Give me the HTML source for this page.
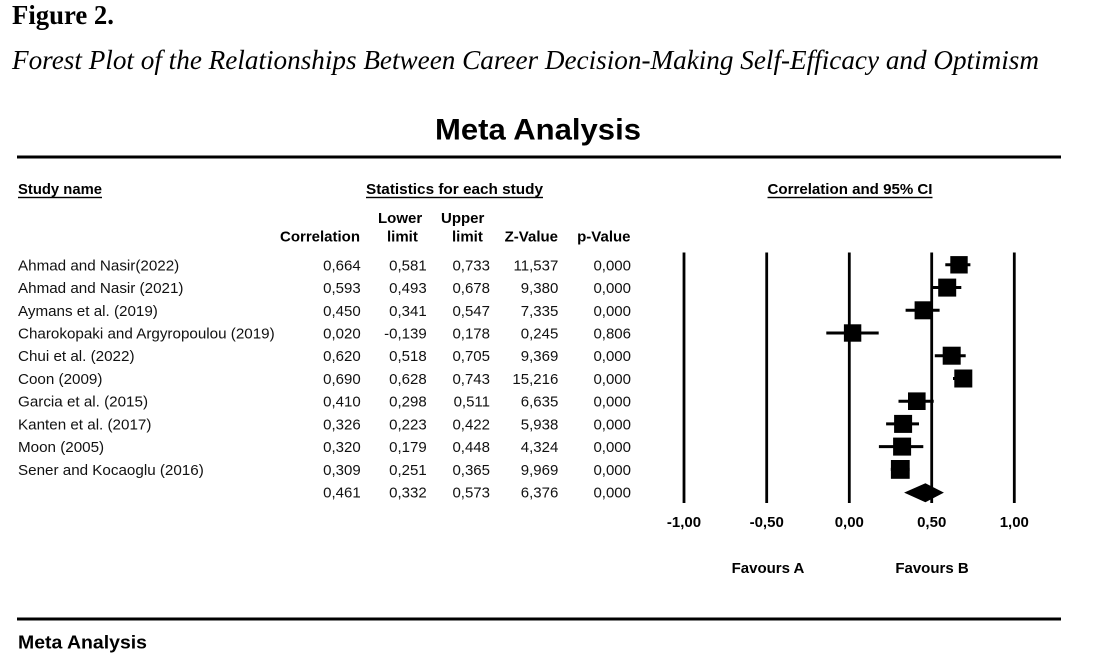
<!DOCTYPE html>
<html><head><meta charset="utf-8"><style>
html,body{margin:0;padding:0;background:#fff;}
svg{display:block;}
.b{font-family:"Liberation Sans",Arial,sans-serif;font-weight:bold;fill:#000;}
.r{font-family:"Liberation Sans",Arial,sans-serif;font-size:15.2px;fill:#111;}
.n{font-family:"Liberation Sans",Arial,sans-serif;font-size:15px;fill:#111;text-anchor:end;}
</style></head><body>
<svg width="1101" height="667" viewBox="0 0 1101 667" xmlns="http://www.w3.org/2000/svg">
<rect width="1101" height="667" fill="#fff"/>
<text x="12" y="24" font-family="'Liberation Serif',serif" font-weight="bold" font-size="27" textLength="102" lengthAdjust="spacingAndGlyphs">Figure 2.</text>
<text x="12" y="69" font-family="'Liberation Serif',serif" font-style="italic" font-size="27" textLength="1027" lengthAdjust="spacingAndGlyphs">Forest Plot of the Relationships Between Career Decision-Making Self-Efficacy and Optimism</text>
<text class="b" x="435" y="139.5" font-size="30" textLength="206" lengthAdjust="spacingAndGlyphs">Meta Analysis</text>
<rect x="17" y="155.5" width="1044" height="3" fill="#000"/>

<text class="b" x="18" y="194" font-size="15" textLength="84" lengthAdjust="spacingAndGlyphs">Study name</text>
<rect x="18" y="196.8" width="84" height="1.4" fill="#000"/>
<text class="b" x="366" y="194" font-size="15" textLength="177" lengthAdjust="spacingAndGlyphs">Statistics for each study</text>
<rect x="366" y="196.8" width="177" height="1.4" fill="#000"/>
<text class="b" x="767.5" y="194" font-size="15" textLength="165" lengthAdjust="spacingAndGlyphs">Correlation and 95% CI</text>
<rect x="767.5" y="196.8" width="165" height="1.4" fill="#000"/>

<text class="b" x="378" y="223" font-size="15">Lower</text>
<text class="b" x="441" y="223" font-size="15">Upper</text>
<text class="b" x="360" y="241.5" font-size="15" text-anchor="end">Correlation</text>
<text class="b" x="387" y="241.5" font-size="15">limit</text>
<text class="b" x="452" y="241.5" font-size="15">limit</text>
<text class="b" x="558" y="241.5" font-size="15" text-anchor="end">Z-Value</text>
<text class="b" x="630.5" y="241.5" font-size="15" text-anchor="end">p-Value</text>

<g>
<text class="r" x="18" y="270.3">Ahmad and Nasir(2022)</text>
<text class="r" x="18" y="293.0">Ahmad and Nasir (2021)</text>
<text class="r" x="18" y="315.8">Aymans et al. (2019)</text>
<text class="r" x="18" y="338.5">Charokopaki and Argyropoulou (2019)</text>
<text class="r" x="18" y="361.2">Chui et al. (2022)</text>
<text class="r" x="18" y="384.0">Coon (2009)</text>
<text class="r" x="18" y="406.7">Garcia et al. (2015)</text>
<text class="r" x="18" y="429.4">Kanten et al. (2017)</text>
<text class="r" x="18" y="452.1">Moon (2005)</text>
<text class="r" x="18" y="474.9">Sener and Kocaoglu (2016)</text>
</g>

<g>
<text class="n" x="360.7" y="270.3">0,664</text><text class="n" x="426.7" y="270.3">0,581</text><text class="n" x="490" y="270.3">0,733</text><text class="n" x="558.3" y="270.3">11,537</text><text class="n" x="631" y="270.3">0,000</text>
<text class="n" x="360.7" y="293.0">0,593</text><text class="n" x="426.7" y="293.0">0,493</text><text class="n" x="490" y="293.0">0,678</text><text class="n" x="558.3" y="293.0">9,380</text><text class="n" x="631" y="293.0">0,000</text>
<text class="n" x="360.7" y="315.8">0,450</text><text class="n" x="426.7" y="315.8">0,341</text><text class="n" x="490" y="315.8">0,547</text><text class="n" x="558.3" y="315.8">7,335</text><text class="n" x="631" y="315.8">0,000</text>
<text class="n" x="360.7" y="338.5">0,020</text><text class="n" x="426.7" y="338.5">-0,139</text><text class="n" x="490" y="338.5">0,178</text><text class="n" x="558.3" y="338.5">0,245</text><text class="n" x="631" y="338.5">0,806</text>
<text class="n" x="360.7" y="361.2">0,620</text><text class="n" x="426.7" y="361.2">0,518</text><text class="n" x="490" y="361.2">0,705</text><text class="n" x="558.3" y="361.2">9,369</text><text class="n" x="631" y="361.2">0,000</text>
<text class="n" x="360.7" y="384.0">0,690</text><text class="n" x="426.7" y="384.0">0,628</text><text class="n" x="490" y="384.0">0,743</text><text class="n" x="558.3" y="384.0">15,216</text><text class="n" x="631" y="384.0">0,000</text>
<text class="n" x="360.7" y="406.7">0,410</text><text class="n" x="426.7" y="406.7">0,298</text><text class="n" x="490" y="406.7">0,511</text><text class="n" x="558.3" y="406.7">6,635</text><text class="n" x="631" y="406.7">0,000</text>
<text class="n" x="360.7" y="429.4">0,326</text><text class="n" x="426.7" y="429.4">0,223</text><text class="n" x="490" y="429.4">0,422</text><text class="n" x="558.3" y="429.4">5,938</text><text class="n" x="631" y="429.4">0,000</text>
<text class="n" x="360.7" y="452.1">0,320</text><text class="n" x="426.7" y="452.1">0,179</text><text class="n" x="490" y="452.1">0,448</text><text class="n" x="558.3" y="452.1">4,324</text><text class="n" x="631" y="452.1">0,000</text>
<text class="n" x="360.7" y="474.9">0,309</text><text class="n" x="426.7" y="474.9">0,251</text><text class="n" x="490" y="474.9">0,365</text><text class="n" x="558.3" y="474.9">9,969</text><text class="n" x="631" y="474.9">0,000</text>
<text class="n" x="360.7" y="497.6">0,461</text><text class="n" x="426.7" y="497.6">0,332</text><text class="n" x="490" y="497.6">0,573</text><text class="n" x="558.3" y="497.6">6,376</text><text class="n" x="631" y="497.6">0,000</text>
</g>

<g fill="#000">
<rect x="682.6" y="252.5" width="2.8" height="250.5"/>
<rect x="765.3" y="252.5" width="2.8" height="250.5"/>
<rect x="847.9" y="252.5" width="2.8" height="250.5"/>
<rect x="930.3" y="252.5" width="2.8" height="250.5"/>
<rect x="1012.9" y="252.5" width="2.8" height="250.5"/>
</g>

<g stroke="#000" stroke-width="3">
<line x1="945.3" y1="264.8" x2="970.4" y2="264.8"/>
<line x1="930.7" y1="287.5" x2="961.3" y2="287.5"/>
<line x1="905.6" y1="310.3" x2="939.6" y2="310.3"/>
<line x1="826.3" y1="333.0" x2="878.7" y2="333.0"/>
<line x1="934.8" y1="355.7" x2="965.7" y2="355.7"/>
<line x1="953.0" y1="378.5" x2="972.0" y2="378.5"/>
<line x1="898.5" y1="401.2" x2="933.7" y2="401.2"/>
<line x1="886.1" y1="423.9" x2="919.0" y2="423.9"/>
<line x1="878.9" y1="446.6" x2="923.3" y2="446.6"/>
<line x1="890.8" y1="469.4" x2="909.6" y2="469.4"/>
</g>

<g fill="#000">
<rect x="950.3" y="256.1" width="17.4" height="17.4"/>
<rect x="938.2" y="278.6" width="18" height="18"/>
<rect x="914.6" y="301.3" width="18" height="18"/>
<rect x="843.9" y="324.3" width="17.4" height="17.4"/>
<rect x="942.7" y="346.7" width="18" height="18"/>
<rect x="954.3" y="369.5" width="18" height="18"/>
<rect x="908.0" y="392.4" width="17.6" height="17.6"/>
<rect x="894.1" y="414.9" width="18" height="18"/>
<rect x="893.1" y="437.6" width="18" height="18"/>
<rect x="890.9" y="460.0" width="18.8" height="18.8"/>
</g>

<polygon points="904.1,492.6 925.4,483.2 943.9,492.6 925.4,502.2" fill="#000"/>

<g class="b" font-size="15" text-anchor="middle">
<text x="684" y="527">-1,00</text>
<text x="766.7" y="527">-0,50</text>
<text x="849.3" y="527">0,00</text>
<text x="931.7" y="527">0,50</text>
<text x="1014.3" y="527">1,00</text>
<text x="768" y="573">Favours A</text>
<text x="932" y="573">Favours B</text>
</g>

<rect x="17" y="617.5" width="1044" height="3" fill="#000"/>
<text class="b" x="18" y="648.3" font-size="18" textLength="129" lengthAdjust="spacingAndGlyphs">Meta Analysis</text>
</svg>
</body></html>
